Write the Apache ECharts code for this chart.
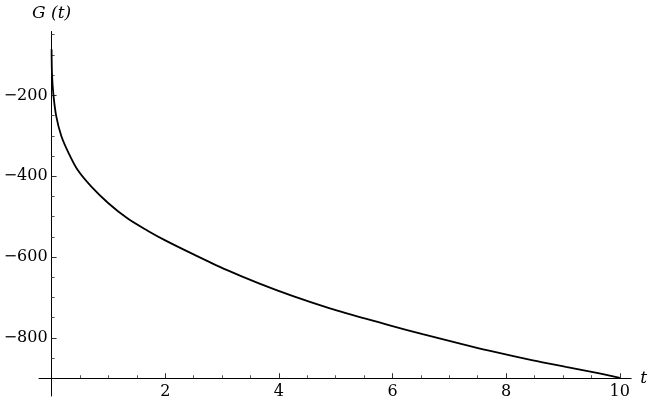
<!DOCTYPE html>
<html><head><meta charset="utf-8">
<script src="https://cdn.jsdelivr.net/npm/echarts@6/dist/echarts.min.js"></script>
<style>html,body{margin:0;padding:0;background:#fff}#c{width:650px;height:408px}</style>
</head><body><div id="c"></div>
<script>
// data
const tValues = [0, 0.007, 0.03, 0.08, 0.17, 0.3, 0.46, 0.7, 1.0, 1.34, 1.69, 2.0, 2.49, 3.08, 3.66, 4.25, 4.83, 5.51, 5.95, 6.53, 7.12, 7.7, 8.47, 9.05, 9.64, 10];
const gValues = [-86, -146, -195, -250, -300, -343, -385, -426, -467, -505, -535, -559, -593, -632, -666, -697, -724, -752, -769, -791, -812, -832, -856, -872, -888, -899];
const xMajorTicks = [2, 4, 6, 8, 10];
const xMinorTicks = [0.5, 1, 1.5, 2.5, 3, 3.5, 4.5, 5, 5.5, 6.5, 7, 7.5, 8.5, 9, 9.5];
const yMajorTicks = [-200, -400, -600, -800];
const yMinorTicks = [-50, -100, -150, -250, -300, -350, -450, -500, -550, -650, -700, -750, -850];
const xName = 't';
const yName = 'G (t)';

// layout
const W = 650, H = 408;
const gridL = 39, gridR = 18, gridT = 31.5, gridB = 12;
const xMin = -0.2214, xMax = 10.2;
const yMin = -944, yMax = -42;
const xCross = 0, yCross = -900;
const gw = W - gridL - gridR, gh = H - gridT - gridB;
const xOff = -gh * (yCross - yMin) / (yMax - yMin);
const yOff = -gw * (xCross - xMin) / (xMax - xMin);
const font = 'DejaVu Serif';
const fmt = v => (v < 0 ? '\u2212' + Math.abs(v) : String(v));

const chart = echarts.init(document.getElementById('c'), null, {renderer: 'canvas'});
chart.setOption({
  animation: false,
  backgroundColor: '#fff',
  grid: {left: gridL, right: gridR, top: gridT, bottom: gridB, containLabel: false},
  xAxis: [{
    type: 'value', min: xMin, max: xMax, position: 'bottom', offset: xOff,
    name: xName, nameLocation: 'end', nameGap: 9,
    nameTextStyle: {fontFamily: font, fontStyle: 'italic', fontSize: 17, color: '#000', verticalAlign: 'middle'},
    axisLine: {show: true, onZero: false, lineStyle: {color: '#000', width: 1}},
    axisTick: {show: true, inside: true, length: 5, customValues: xMajorTicks, lineStyle: {color: '#333', width: 1}},
    axisLabel: {show: true, customValues: xMajorTicks, margin: 6, fontFamily: font, fontSize: 16, color: '#000', formatter: fmt},
    splitLine: {show: false}
  }, {
    type: 'value', min: xMin, max: xMax, position: 'bottom', offset: xOff,
    axisLine: {show: false, onZero: false},
    axisTick: {show: true, inside: true, length: 3, customValues: xMinorTicks, lineStyle: {color: '#555', width: 1}},
    axisLabel: {show: false},
    splitLine: {show: false}
  }],
  yAxis: [{
    type: 'value', min: yMin, max: yMax, position: 'left', offset: yOff,
    name: yName, nameLocation: 'end', nameGap: 9,
    nameTextStyle: {fontFamily: font, fontStyle: 'italic', fontSize: 17, color: '#000', align: 'center'},
    axisLine: {show: true, onZero: false, lineStyle: {color: '#000', width: 1}},
    axisTick: {show: true, inside: true, length: 5, customValues: yMajorTicks, lineStyle: {color: '#333', width: 1}},
    axisLabel: {show: true, customValues: yMajorTicks, margin: 4, fontFamily: font, fontSize: 16, color: '#000', formatter: fmt},
    splitLine: {show: false}
  }, {
    type: 'value', min: yMin, max: yMax, position: 'left', offset: yOff,
    axisLine: {show: false, onZero: false},
    axisTick: {show: true, inside: true, length: 3, customValues: yMinorTicks, lineStyle: {color: '#555', width: 1}},
    axisLabel: {show: false},
    splitLine: {show: false}
  }],
  series: [{
    type: 'line', xAxisIndex: 0, yAxisIndex: 0,
    data: tValues.map((t, i) => [t, gValues[i]]),
    showSymbol: false, smooth: 0.3,
    lineStyle: {color: '#000', width: 1.8},
    clip: false
  }]
});
</script>
</body></html>
